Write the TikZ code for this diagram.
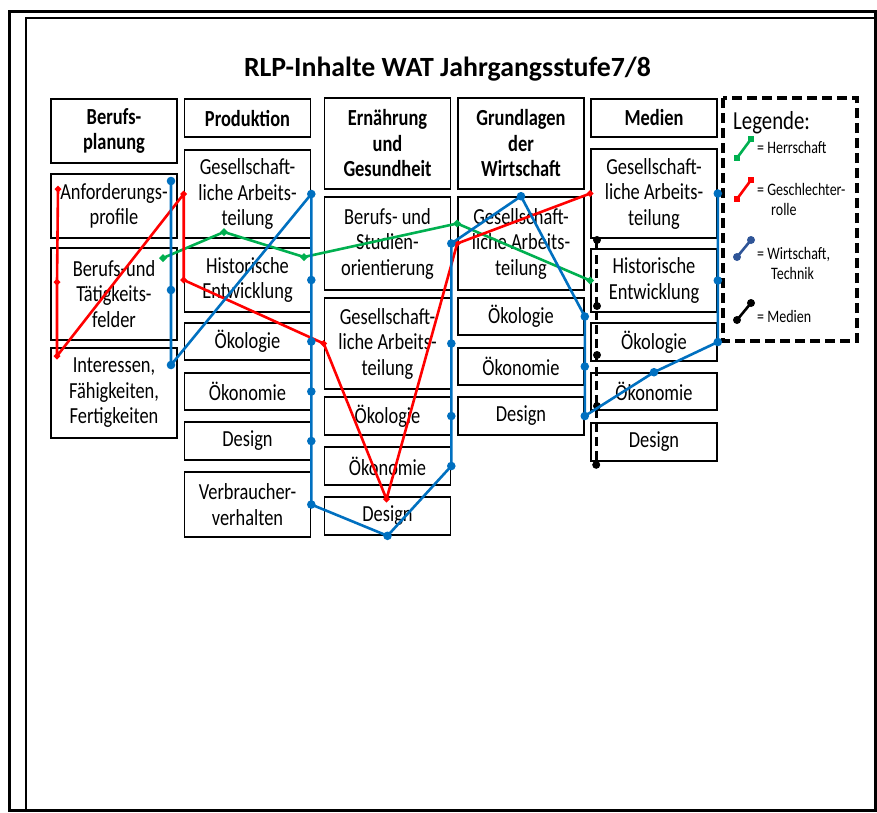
\documentclass[tikz,border=0pt]{standalone}
\usepackage{fontspec}
\setmainfont{Carlito}
\newfontfamily\boxfont{Carlito}[FakeStretch=0.8]
\usepackage{tikz}
\usetikzlibrary{calc,positioning}
\definecolor{hgreen}{HTML}{00B050}
\definecolor{wblue}{HTML}{0070C0}
\definecolor{wdark}{HTML}{2F5597}

\begin{document}
\begin{tikzpicture}[x=1pt, y=-1pt,
  box/.style={draw, line width=1.6pt, fill=white, minimum width=126pt, inner sep=0pt,
    align=center, font=\boxfont\fontsize{23}{25.5}\selectfont},
  head/.style={box, font=\boxfont\bfseries\fontsize{23}{25.5}\selectfont},
  track/.style={line width=2.6pt, line join=round},
  legtext/.style={anchor=west, align=left, inner sep=0pt, font=\boxfont\fontsize{17.5}{20}\selectfont}]
  \useasboundingbox (0,0) rectangle (877,812);

  % Frames
  \draw[line width=3pt] (9,11) rectangle (875,810);
  \draw[line width=2pt] (26,18) rectangle (875,810);

  % Title
  \node[anchor=base, font=\bfseries\fontsize{27.8}{32}\selectfont] (title) at (447.5,76)
    {RLP-Inhalte WAT Jahrgangsstufe7/8};

  % Berufsplanung
  \node[head, minimum height=64pt] (bp-h) at (114,131) {Berufs-\\planung};
  \node[box, minimum height=64pt] (bp-a) at (114,206) {Anforderungs-\\profile};
  \node[box, minimum height=92pt] (bp-b) at (114,294) {Berufs-und\\Tätigkeits-\\felder};
  \node[box, minimum height=90pt] (bp-i) at (114,393) {Interessen,\\Fähigkeiten,\\Fertigkeiten};

  % Produktion
  \node[head, minimum height=38pt] (pr-h) at (247.5,118) {Produktion};
  \node[box, minimum height=88pt] (pr-g) at (247.5,194) {Gesellschaft-\\liche Arbeits-\\teilung};
  \node[box, minimum height=64pt] (pr-e) at (247.5,280) {Historische\\Entwicklung};
  \node[box, minimum height=37pt] (pr-oe) at (247.5,341.5) {Ökologie};
  \node[box, minimum height=37pt] (pr-ok) at (247.5,391.5) {Ökonomie};
  \node[box, minimum height=38pt] (pr-d) at (247.5,441) {Design};
  \node[box, minimum height=65pt] (pr-v) at (247.5,504.5) {Verbraucher-\\verhalten};

  % Ernaehrung und Gesundheit
  \node[head, minimum height=91pt] (eg-h) at (387.5,143.5) {Ernährung\\und\\Gesundheit};
  \node[box, minimum height=93pt] (eg-b) at (387.5,243.5) {Berufs- und\\Studien-\\orientierung};
  \node[box, minimum height=91pt] (eg-g) at (387.5,343.5) {Gesellschaft-\\liche Arbeits-\\teilung};
  \node[box, minimum height=38pt] (eg-oe) at (387.5,416) {Ökologie};
  \node[box, minimum height=38pt] (eg-ok) at (387.5,466) {Ökonomie};
  \node[box, minimum height=38pt] (eg-d) at (387.5,516) {Design};

  % Grundlagen der Wirtschaft
  \node[head, minimum height=91pt] (gw-h) at (521,143.5) {Grundlagen\\der\\Wirtschaft};
  \node[box, minimum height=93pt] (gw-g) at (521,243.5) {Gesellschaft-\\liche Arbeits-\\teilung};
  \node[box, minimum height=37pt] (gw-oe) at (521,316.5) {Ökologie};
  \node[box, minimum height=37pt] (gw-ok) at (521,366.5) {Ökonomie};
  \node[box, minimum height=38pt] (gw-d) at (521,416) {Design};

  % Medien
  \node[head, minimum height=38pt] (me-h) at (654,118) {Medien};
  \node[box, minimum height=89pt] (me-g) at (654,193.5) {Gesellschaft-\\liche Arbeits-\\teilung};
  \node[box, minimum height=63pt] (me-e) at (654,280.5) {Historische\\Entwicklung};
  \node[box, minimum height=38pt] (me-oe) at (654,342) {Ökologie};
  \node[box, minimum height=37pt] (me-ok) at (654,391.5) {Ökonomie};
  \node[box, minimum height=38pt] (me-d) at (654,442) {Design};

  % Legend
  \draw[line width=3.5pt, dash pattern=on 10pt off 5pt] (723,98) rectangle (857,341);
  \node[anchor=base west, inner sep=0pt, font=\boxfont\fontsize{26}{28}\selectfont] (leg) at (733,129) {Legende:};
  \node[legtext] (leg-h) at (757,147) {= Herrschaft};
  \node[legtext] (leg-g) at (757,199.5) {= Geschlechter-\\\hspace*{14pt}rolle};
  \node[legtext] (leg-w) at (757,263) {= Wirtschaft,\\\hspace*{14pt}Technik};
  \node[legtext] (leg-m) at (757,316) {= Medien};

  % Track points
  \coordinate (g1) at (163,258);
  \coordinate (g2) at (224,232);
  \coordinate (g3) at (304,257);
  \coordinate (g4) at ($(gw-g.west)+(0,-20)$);
  \coordinate (g5) at (me-e.west);

  \coordinate (r1) at (58,189);
  \coordinate (r2) at (57,282);
  \coordinate (r3) at (57,356);
  \coordinate (r7) at ($(eg-d.north)+(-1,3)$);

  \coordinate (b1) at (171,181);
  \coordinate (b2) at (171,290);
  \coordinate (b3) at (171,365);

  \coordinate (m1) at ($(me-g.south west)+(6,2)$);
  \coordinate (m5) at ($(me-d.south west)+(6,3)$);

  % Medien (dashed)
  \draw[track, black, dash pattern=on 9pt off 5pt] (m1) -- (m5);
  \foreach \yy in {240,306,355,406} \fill (597,\yy) circle[radius=4pt];
  \fill (m5) circle[radius=4pt];

  % Herrschaft
  \draw[track, hgreen] (g1) -- (g2) -- (g3) -- (g4) -- (g5);
  \foreach \p in {g1,g2,g3,g4,g5}
    \fill[hgreen] (\p) +(-4,0) -- +(0,-4) -- +(4,0) -- +(0,4) -- cycle;

  % Geschlechterrolle
  \draw[track, red] (r1) -- (r2) -- (r3) -- (pr-g.west) -- (pr-e.west) -- (eg-g.west)
    -- (r7) -- (gw-g.west) -- (me-g.west);
  \foreach \p in {r1,r2,r3,pr-g.west,pr-e.west,eg-g.west,r7,gw-g.west,me-g.west}
    \fill[red] (\p) +(-3.5,0) -- +(0,-3.5) -- +(3.5,0) -- +(0,3.5) -- cycle;

  % Wirtschaft, Technik
  \draw[track, wblue] (b1) -- (b2) -- (b3) -- (pr-g.east) -- (pr-e.east) -- (pr-oe.east)
    -- (pr-ok.east) -- (pr-d.east) -- (pr-v.east) -- (eg-d.south) -- (eg-ok.east)
    -- (eg-oe.east) -- (eg-g.east) -- (eg-b.east) -- (gw-g.north) -- (gw-oe.east)
    -- (gw-ok.east) -- (gw-d.east) -- (me-ok.north) -- (me-oe.east) -- (me-e.east)
    -- (me-g.east);
  \foreach \p in {b1,b2,b3,pr-g.east,pr-e.east,pr-oe.east,pr-ok.east,pr-d.east,pr-v.east,
      eg-d.south,eg-ok.east,eg-oe.east,eg-g.east,eg-b.east,gw-g.north,gw-oe.east,
      gw-ok.east,gw-d.east,me-ok.north,me-oe.east,me-e.east,me-g.east}
    \fill[wblue] (\p) circle[radius=4.3pt];

  % Legend icons
  \foreach \c/\yy in {hgreen/158,red/199}{
    \draw[track, \c] (737,\yy) -- (751,\yy-19);
    \fill[\c] (737,\yy) +(-3,-3) rectangle +(3,3);
    \fill[\c] (751,\yy-19) +(-3,-3) rectangle +(3,3);
  }
  \foreach \c/\yy in {wdark/257,black/320}{
    \draw[track, \c] (737,\yy) -- (751,\yy-17);
    \fill[\c] (737,\yy) circle[radius=4pt];
    \fill[\c] (751,\yy-17) circle[radius=4pt];
  }
\end{tikzpicture}
\end{document}
